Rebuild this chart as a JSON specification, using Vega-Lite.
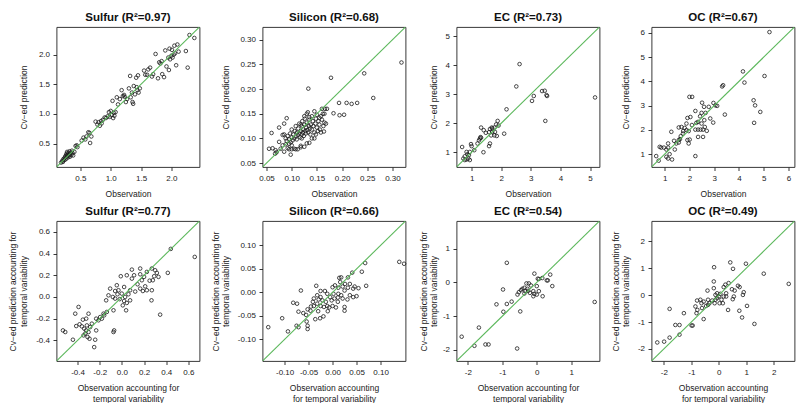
{
"$schema": "https://vega.github.io/schema/vega-lite/v6.json",
"padding": {"left": 7.5, "top": 11, "right": 0, "bottom": 0},
"background": "white",
"columns": 4,
"align": "each",
"spacing": {"row": 6, "column": 10},
"datasets": {
"diag": [
{"p":"a1","obs":0,"pred":0},{"p":"a1","obs":3,"pred":3},
{"p":"a2","obs":0,"pred":0},{"p":"a2","obs":0.4,"pred":0.4},
{"p":"a3","obs":0,"pred":0},{"p":"a3","obs":6,"pred":6},
{"p":"a4","obs":0,"pred":0},{"p":"a4","obs":7,"pred":7},
{"p":"b1","obs":-1,"pred":-1},{"p":"b1","obs":1,"pred":1},
{"p":"b2","obs":-0.2,"pred":-0.2},{"p":"b2","obs":0.2,"pred":0.2},
{"p":"b3","obs":-3,"pred":-3},{"p":"b3","obs":2,"pred":2},
{"p":"b4","obs":-3,"pred":-3},{"p":"b4","obs":3,"pred":3}
],
"pts": [
{"p":"a1","obs":0.18,"pred":0.18},{"p":"a1","obs":0.20,"pred":0.21},{"p":"a1","obs":0.21,"pred":0.19},{"p":"a1","obs":0.22,"pred":0.24},{"p":"a1","obs":0.23,"pred":0.22},{"p":"a1","obs":0.24,"pred":0.26},{"p":"a1","obs":0.25,"pred":0.23},{"p":"a1","obs":0.25,"pred":0.28},{"p":"a1","obs":0.26,"pred":0.30},{"p":"a1","obs":0.27,"pred":0.25},{"p":"a1","obs":0.27,"pred":0.33},{"p":"a1","obs":0.28,"pred":0.29},{"p":"a1","obs":0.28,"pred":0.36},{"p":"a1","obs":0.29,"pred":0.31},{"p":"a1","obs":0.30,"pred":0.27},{"p":"a1","obs":0.30,"pred":0.34},{"p":"a1","obs":0.31,"pred":0.30},{"p":"a1","obs":0.32,"pred":0.37},{"p":"a1","obs":0.32,"pred":0.32},{"p":"a1","obs":0.33,"pred":0.28},{"p":"a1","obs":0.34,"pred":0.35},{"p":"a1","obs":0.35,"pred":0.31},{"p":"a1","obs":0.36,"pred":0.38},{"p":"a1","obs":0.37,"pred":0.34},{"p":"a1","obs":0.38,"pred":0.30},{"p":"a1","obs":0.40,"pred":0.36},{"p":"a1","obs":0.42,"pred":0.46},{"p":"a1","obs":0.44,"pred":0.47},{"p":"a1","obs":0.45,"pred":0.44},{"p":"a1","obs":0.52,"pred":0.55},{"p":"a1","obs":0.55,"pred":0.60},{"p":"a1","obs":0.58,"pred":0.57},{"p":"a1","obs":0.60,"pred":0.62},{"p":"a1","obs":0.63,"pred":0.69},{"p":"a1","obs":0.65,"pred":0.68},{"p":"a1","obs":0.66,"pred":0.51},{"p":"a1","obs":0.68,"pred":0.62},{"p":"a1","obs":0.75,"pred":0.87},{"p":"a1","obs":0.78,"pred":0.82},{"p":"a1","obs":0.80,"pred":0.86},{"p":"a1","obs":0.82,"pred":0.80},{"p":"a1","obs":0.84,"pred":0.88},{"p":"a1","obs":0.85,"pred":0.84},{"p":"a1","obs":0.87,"pred":0.90},{"p":"a1","obs":0.90,"pred":0.94},{"p":"a1","obs":0.92,"pred":0.93},{"p":"a1","obs":0.95,"pred":0.96},{"p":"a1","obs":0.97,"pred":1.03},{"p":"a1","obs":0.98,"pred":0.95},{"p":"a1","obs":1.00,"pred":1.05},{"p":"a1","obs":1.02,"pred":0.98},{"p":"a1","obs":1.03,"pred":1.22},{"p":"a1","obs":1.04,"pred":0.93},{"p":"a1","obs":1.05,"pred":1.02},{"p":"a1","obs":1.06,"pred":0.97},{"p":"a1","obs":1.08,"pred":1.03},{"p":"a1","obs":1.10,"pred":1.28},{"p":"a1","obs":1.12,"pred":1.16},{"p":"a1","obs":1.15,"pred":1.25},{"p":"a1","obs":1.18,"pred":1.40},{"p":"a1","obs":1.20,"pred":1.30},{"p":"a1","obs":1.22,"pred":1.32},{"p":"a1","obs":1.23,"pred":1.29},{"p":"a1","obs":1.25,"pred":1.20},{"p":"a1","obs":1.27,"pred":1.25},{"p":"a1","obs":1.30,"pred":1.43},{"p":"a1","obs":1.32,"pred":1.64},{"p":"a1","obs":1.33,"pred":1.28},{"p":"a1","obs":1.35,"pred":1.36},{"p":"a1","obs":1.36,"pred":1.20},{"p":"a1","obs":1.37,"pred":1.17},{"p":"a1","obs":1.38,"pred":1.47},{"p":"a1","obs":1.40,"pred":1.33},{"p":"a1","obs":1.42,"pred":1.61},{"p":"a1","obs":1.43,"pred":1.45},{"p":"a1","obs":1.44,"pred":1.40},{"p":"a1","obs":1.45,"pred":1.65},{"p":"a1","obs":1.46,"pred":1.36},{"p":"a1","obs":1.48,"pred":1.43},{"p":"a1","obs":1.55,"pred":1.73},{"p":"a1","obs":1.57,"pred":1.66},{"p":"a1","obs":1.60,"pred":1.66},{"p":"a1","obs":1.62,"pred":1.75},{"p":"a1","obs":1.65,"pred":1.78},{"p":"a1","obs":1.68,"pred":1.63},{"p":"a1","obs":1.70,"pred":1.67},{"p":"a1","obs":1.74,"pred":2.01},{"p":"a1","obs":1.78,"pred":1.60},{"p":"a1","obs":1.80,"pred":1.87},{"p":"a1","obs":1.82,"pred":1.85},{"p":"a1","obs":1.84,"pred":1.89},{"p":"a1","obs":1.85,"pred":1.67},{"p":"a1","obs":1.88,"pred":1.62},{"p":"a1","obs":1.90,"pred":2.07},{"p":"a1","obs":1.92,"pred":1.80},{"p":"a1","obs":1.95,"pred":1.95},{"p":"a1","obs":1.96,"pred":1.74},{"p":"a1","obs":1.97,"pred":2.10},{"p":"a1","obs":1.98,"pred":1.92},{"p":"a1","obs":2.00,"pred":1.98},{"p":"a1","obs":2.01,"pred":2.08},{"p":"a1","obs":2.02,"pred":1.95},{"p":"a1","obs":2.04,"pred":2.00},{"p":"a1","obs":2.05,"pred":2.15},{"p":"a1","obs":2.06,"pred":2.02},{"p":"a1","obs":2.08,"pred":1.82},{"p":"a1","obs":2.10,"pred":2.17},{"p":"a1","obs":2.12,"pred":2.05},{"p":"a1","obs":2.24,"pred":2.06},{"p":"a1","obs":2.27,"pred":1.78},{"p":"a1","obs":2.30,"pred":2.33},{"p":"a1","obs":2.38,"pred":2.28},

{"p":"a2","obs":0.318,"pred":0.254},{"p":"a2","obs":0.244,"pred":0.232},{"p":"a2","obs":0.178,"pred":0.223},{"p":"a2","obs":0.133,"pred":0.201},{"p":"a2","obs":0.262,"pred":0.182},{"p":"a2","obs":0.230,"pred":0.172},{"p":"a2","obs":0.219,"pred":0.170},{"p":"a2","obs":0.209,"pred":0.172},{"p":"a2","obs":0.194,"pred":0.172},{"p":"a2","obs":0.204,"pred":0.148},{"p":"a2","obs":0.195,"pred":0.147},{"p":"a2","obs":0.183,"pred":0.151},{"p":"a2","obs":0.170,"pred":0.160},{"p":"a2","obs":0.060,"pred":0.111},{"p":"a2","obs":0.075,"pred":0.122},{"p":"a2","obs":0.090,"pred":0.141},{"p":"a2","obs":0.085,"pred":0.130},{"p":"a2","obs":0.098,"pred":0.067},{"p":"a2","obs":0.135,"pred":0.091},{"p":"a2","obs":0.164,"pred":0.114},{"p":"a2","obs":0.055,"pred":0.079},{"p":"a2","obs":0.062,"pred":0.080},{"p":"a2","obs":0.068,"pred":0.076},{"p":"a2","obs":0.070,"pred":0.072},{"p":"a2","obs":0.067,"pred":0.069},{"p":"a2","obs":0.078,"pred":0.079},{"p":"a2","obs":0.082,"pred":0.086},{"p":"a2","obs":0.075,"pred":0.093},{"p":"a2","obs":0.085,"pred":0.073},{"p":"a2","obs":0.100,"pred":0.078},{"p":"a2","obs":0.105,"pred":0.079},{"p":"a2","obs":0.112,"pred":0.078},{"p":"a2","obs":0.100,"pred":0.086},{"p":"a2","obs":0.118,"pred":0.085},{"p":"a2","obs":0.095,"pred":0.089},{"p":"a2","obs":0.085,"pred":0.108},{"p":"a2","obs":0.088,"pred":0.100},{"p":"a2","obs":0.090,"pred":0.095},{"p":"a2","obs":0.092,"pred":0.105},{"p":"a2","obs":0.095,"pred":0.098},{"p":"a2","obs":0.097,"pred":0.110},{"p":"a2","obs":0.098,"pred":0.092},{"p":"a2","obs":0.100,"pred":0.102},{"p":"a2","obs":0.100,"pred":0.118},{"p":"a2","obs":0.102,"pred":0.096},{"p":"a2","obs":0.103,"pred":0.108},{"p":"a2","obs":0.105,"pred":0.100},{"p":"a2","obs":0.106,"pred":0.115},{"p":"a2","obs":0.108,"pred":0.104},{"p":"a2","obs":0.108,"pred":0.125},{"p":"a2","obs":0.110,"pred":0.098},{"p":"a2","obs":0.110,"pred":0.112},{"p":"a2","obs":0.112,"pred":0.107},{"p":"a2","obs":0.113,"pred":0.120},{"p":"a2","obs":0.115,"pred":0.110},{"p":"a2","obs":0.115,"pred":0.130},{"p":"a2","obs":0.117,"pred":0.102},{"p":"a2","obs":0.118,"pred":0.115},{"p":"a2","obs":0.120,"pred":0.108},{"p":"a2","obs":0.120,"pred":0.125},{"p":"a2","obs":0.121,"pred":0.135},{"p":"a2","obs":0.122,"pred":0.112},{"p":"a2","obs":0.123,"pred":0.118},{"p":"a2","obs":0.124,"pred":0.105},{"p":"a2","obs":0.125,"pred":0.128},{"p":"a2","obs":0.126,"pred":0.140},{"p":"a2","obs":0.127,"pred":0.115},{"p":"a2","obs":0.128,"pred":0.110},{"p":"a2","obs":0.129,"pred":0.122},{"p":"a2","obs":0.130,"pred":0.132},{"p":"a2","obs":0.130,"pred":0.150},{"p":"a2","obs":0.131,"pred":0.117},{"p":"a2","obs":0.132,"pred":0.153},{"p":"a2","obs":0.133,"pred":0.112},{"p":"a2","obs":0.134,"pred":0.125},{"p":"a2","obs":0.135,"pred":0.138},{"p":"a2","obs":0.136,"pred":0.120},{"p":"a2","obs":0.137,"pred":0.108},{"p":"a2","obs":0.138,"pred":0.128},{"p":"a2","obs":0.140,"pred":0.145},{"p":"a2","obs":0.140,"pred":0.118},{"p":"a2","obs":0.142,"pred":0.135},{"p":"a2","obs":0.143,"pred":0.125},{"p":"a2","obs":0.145,"pred":0.155},{"p":"a2","obs":0.145,"pred":0.112},{"p":"a2","obs":0.147,"pred":0.130},{"p":"a2","obs":0.148,"pred":0.140},{"p":"a2","obs":0.150,"pred":0.122},{"p":"a2","obs":0.150,"pred":0.148},{"p":"a2","obs":0.152,"pred":0.115},{"p":"a2","obs":0.153,"pred":0.135},{"p":"a2","obs":0.155,"pred":0.128},{"p":"a2","obs":0.156,"pred":0.118},{"p":"a2","obs":0.158,"pred":0.112},{"p":"a2","obs":0.158,"pred":0.145},{"p":"a2","obs":0.160,"pred":0.160},{"p":"a2","obs":0.160,"pred":0.138},{"p":"a2","obs":0.162,"pred":0.150},{"p":"a2","obs":0.163,"pred":0.125},{"p":"a2","obs":0.165,"pred":0.150},{"p":"a2","obs":0.165,"pred":0.132},{"p":"a2","obs":0.166,"pred":0.160},{"p":"a2","obs":0.168,"pred":0.130},{"p":"a2","obs":0.145,"pred":0.100},{"p":"a2","obs":0.130,"pred":0.090},{"p":"a2","obs":0.118,"pred":0.082},{"p":"a2","obs":0.125,"pred":0.083},{"p":"a2","obs":0.108,"pred":0.078},{"p":"a2","obs":0.095,"pred":0.078},{"p":"a2","obs":0.092,"pred":0.080},{"p":"a2","obs":0.155,"pred":0.142},{"p":"a2","obs":0.135,"pred":0.143},{"p":"a2","obs":0.118,"pred":0.128},{"p":"a2","obs":0.125,"pred":0.145},{"p":"a2","obs":0.082,"pred":0.107},{"p":"a2","obs":0.088,"pred":0.088},{"p":"a2","obs":0.140,"pred":0.100},{"p":"a2","obs":0.148,"pred":0.108},{"p":"a2","obs":0.120,"pred":0.100},

{"p":"a3","obs":5.17,"pred":2.89},{"p":"a3","obs":2.62,"pred":4.04},{"p":"a3","obs":2.51,"pred":3.27},{"p":"a3","obs":3.04,"pred":2.77},{"p":"a3","obs":3.10,"pred":2.94},{"p":"a3","obs":3.38,"pred":3.11},{"p":"a3","obs":3.47,"pred":3.12},{"p":"a3","obs":3.53,"pred":2.97},{"p":"a3","obs":3.55,"pred":2.94},{"p":"a3","obs":3.49,"pred":2.08},{"p":"a3","obs":2.18,"pred":2.48},{"p":"a3","obs":2.10,"pred":1.64},{"p":"a3","obs":1.88,"pred":2.08},{"p":"a3","obs":1.83,"pred":1.96},{"p":"a3","obs":1.91,"pred":1.92},{"p":"a3","obs":1.77,"pred":1.85},{"p":"a3","obs":1.68,"pred":1.85},{"p":"a3","obs":1.62,"pred":1.80},{"p":"a3","obs":1.70,"pred":1.70},{"p":"a3","obs":1.66,"pred":1.58},{"p":"a3","obs":1.77,"pred":1.58},{"p":"a3","obs":1.85,"pred":1.56},{"p":"a3","obs":1.79,"pred":1.70},{"p":"a3","obs":1.59,"pred":1.69},{"p":"a3","obs":1.41,"pred":1.76},{"p":"a3","obs":1.32,"pred":1.85},{"p":"a3","obs":1.48,"pred":1.67},{"p":"a3","obs":1.62,"pred":1.30},{"p":"a3","obs":1.59,"pred":1.21},{"p":"a3","obs":1.32,"pred":1.50},{"p":"a3","obs":1.28,"pred":1.47},{"p":"a3","obs":1.25,"pred":1.41},{"p":"a3","obs":1.20,"pred":1.30},{"p":"a3","obs":1.40,"pred":1.00},{"p":"a3","obs":0.98,"pred":1.28},{"p":"a3","obs":1.00,"pred":1.21},{"p":"a3","obs":1.09,"pred":1.07},{"p":"a3","obs":0.94,"pred":1.01},{"p":"a3","obs":0.83,"pred":1.01},{"p":"a3","obs":0.68,"pred":1.18},{"p":"a3","obs":0.77,"pred":0.86},{"p":"a3","obs":0.72,"pred":0.78},{"p":"a3","obs":0.83,"pred":0.75},{"p":"a3","obs":0.89,"pred":0.78},{"p":"a3","obs":0.91,"pred":0.90},{"p":"a3","obs":0.86,"pred":0.93},{"p":"a3","obs":0.94,"pred":0.73},{"p":"a3","obs":0.77,"pred":0.73},{"p":"a3","obs":1.30,"pred":1.52},{"p":"a3","obs":1.70,"pred":1.82},

{"p":"a4","obs":5.23,"pred":6.03},{"p":"a4","obs":4.16,"pred":4.41},{"p":"a4","obs":4.22,"pred":3.95},{"p":"a4","obs":5.03,"pred":4.22},{"p":"a4","obs":4.59,"pred":3.22},{"p":"a4","obs":4.65,"pred":3.01},{"p":"a4","obs":4.86,"pred":2.74},{"p":"a4","obs":4.61,"pred":2.29},{"p":"a4","obs":3.36,"pred":3.84},{"p":"a4","obs":3.32,"pred":3.79},{"p":"a4","obs":3.43,"pred":2.63},{"p":"a4","obs":2.97,"pred":3.11},{"p":"a4","obs":3.05,"pred":3.01},{"p":"a4","obs":3.12,"pred":2.99},{"p":"a4","obs":2.96,"pred":2.30},{"p":"a4","obs":2.84,"pred":2.47},{"p":"a4","obs":2.70,"pred":1.96},{"p":"a4","obs":2.78,"pred":2.95},{"p":"a4","obs":2.59,"pred":2.95},{"p":"a4","obs":2.51,"pred":3.12},{"p":"a4","obs":2.11,"pred":3.36},{"p":"a4","obs":2.00,"pred":3.36},{"p":"a4","obs":2.24,"pred":2.78},{"p":"a4","obs":2.04,"pred":2.53},{"p":"a4","obs":1.92,"pred":2.49},{"p":"a4","obs":1.88,"pred":2.26},{"p":"a4","obs":1.88,"pred":1.99},{"p":"a4","obs":1.97,"pred":1.95},{"p":"a4","obs":1.81,"pred":2.08},{"p":"a4","obs":1.68,"pred":2.12},{"p":"a4","obs":1.57,"pred":2.10},{"p":"a4","obs":1.74,"pred":1.85},{"p":"a4","obs":1.65,"pred":1.74},{"p":"a4","obs":1.57,"pred":1.58},{"p":"a4","obs":1.47,"pred":1.44},{"p":"a4","obs":1.57,"pred":1.48},{"p":"a4","obs":2.01,"pred":1.60},{"p":"a4","obs":1.97,"pred":1.44},{"p":"a4","obs":1.92,"pred":1.58},{"p":"a4","obs":2.35,"pred":1.71},{"p":"a4","obs":2.55,"pred":1.71},{"p":"a4","obs":2.55,"pred":2.01},{"p":"a4","obs":2.45,"pred":2.01},{"p":"a4","obs":2.35,"pred":2.01},{"p":"a4","obs":2.24,"pred":2.01},{"p":"a4","obs":2.28,"pred":2.29},{"p":"a4","obs":2.35,"pred":2.33},{"p":"a4","obs":2.49,"pred":2.26},{"p":"a4","obs":2.62,"pred":2.12},{"p":"a4","obs":2.65,"pred":2.70},{"p":"a4","obs":2.49,"pred":2.70},{"p":"a4","obs":2.43,"pred":2.56},{"p":"a4","obs":2.24,"pred":0.92},{"p":"a4","obs":1.27,"pred":1.92},{"p":"a4","obs":1.14,"pred":1.27},{"p":"a4","obs":1.07,"pred":1.19},{"p":"a4","obs":0.97,"pred":1.27},{"p":"a4","obs":0.86,"pred":1.27},{"p":"a4","obs":0.80,"pred":1.30},{"p":"a4","obs":1.14,"pred":1.44},{"p":"a4","obs":1.07,"pred":0.89},{"p":"a4","obs":1.14,"pred":0.82},{"p":"a4","obs":1.30,"pred":0.78},{"p":"a4","obs":1.41,"pred":1.19},{"p":"a4","obs":1.38,"pred":1.55},{"p":"a4","obs":0.66,"pred":0.92},{"p":"a4","obs":0.76,"pred":0.73},{"p":"a4","obs":1.20,"pred":1.00},{"p":"a4","obs":1.62,"pred":1.62},{"p":"a4","obs":2.10,"pred":2.20},{"p":"a4","obs":2.60,"pred":2.40},{"p":"a4","obs":1.75,"pred":1.95},

{"p":"b1","obs":0.657,"pred":0.369},{"p":"b1","obs":0.441,"pred":0.443},{"p":"b1","obs":0.414,"pred":0.222},{"p":"b1","obs":0.345,"pred":-0.163},{"p":"b1","obs":0.267,"pred":-0.031},{"p":"b1","obs":0.270,"pred":0.062},{"p":"b1","obs":0.330,"pred":0.185},{"p":"b1","obs":0.315,"pred":0.222},{"p":"b1","obs":0.300,"pred":0.246},{"p":"b1","obs":0.270,"pred":0.262},{"p":"b1","obs":0.225,"pred":0.231},{"p":"b1","obs":0.200,"pred":0.185},{"p":"b1","obs":0.180,"pred":0.154},{"p":"b1","obs":0.165,"pred":0.262},{"p":"b1","obs":0.165,"pred":0.209},{"p":"b1","obs":0.141,"pred":0.117},{"p":"b1","obs":0.210,"pred":0.098},{"p":"b1","obs":0.225,"pred":0.062},{"p":"b1","obs":0.189,"pred":0.055},{"p":"b1","obs":0.165,"pred":0.077},{"p":"b1","obs":0.279,"pred":0.154},{"p":"b1","obs":0.291,"pred":0.191},{"p":"b1","obs":0.090,"pred":0.252},{"p":"b1","obs":0.110,"pred":0.200},{"p":"b1","obs":0.090,"pred":0.169},{"p":"b1","obs":0.044,"pred":0.200},{"p":"b1","obs":-0.010,"pred":0.191},{"p":"b1","obs":0.020,"pred":0.092},{"p":"b1","obs":-0.001,"pred":0.031},{"p":"b1","obs":0.029,"pred":0.000},{"p":"b1","obs":0.059,"pred":0.025},{"p":"b1","obs":0.074,"pred":0.062},{"p":"b1","obs":0.074,"pred":-0.031},{"p":"b1","obs":0.044,"pred":-0.055},{"p":"b1","obs":0.020,"pred":-0.037},{"p":"b1","obs":0.008,"pred":-0.077},{"p":"b1","obs":0.038,"pred":-0.123},{"p":"b1","obs":-0.046,"pred":0.108},{"p":"b1","obs":-0.031,"pred":0.062},{"p":"b1","obs":-0.040,"pred":0.025},{"p":"b1","obs":-0.061,"pred":-0.015},{"p":"b1","obs":-0.082,"pred":0.000},{"p":"b1","obs":-0.106,"pred":0.077},{"p":"b1","obs":-0.121,"pred":0.015},{"p":"b1","obs":-0.061,"pred":0.055},{"p":"b1","obs":-0.142,"pred":-0.031},{"p":"b1","obs":-0.076,"pred":-0.123},{"p":"b1","obs":-0.076,"pred":-0.323},{"p":"b1","obs":-0.070,"pred":-0.308},{"p":"b1","obs":-0.136,"pred":-0.138},{"p":"b1","obs":-0.166,"pred":-0.154},{"p":"b1","obs":-0.181,"pred":-0.200},{"p":"b1","obs":-0.160,"pred":-0.169},{"p":"b1","obs":-0.196,"pred":-0.185},{"p":"b1","obs":-0.211,"pred":-0.215},{"p":"b1","obs":-0.232,"pred":-0.200},{"p":"b1","obs":-0.232,"pred":-0.308},{"p":"b1","obs":-0.241,"pred":-0.394},{"p":"b1","obs":-0.250,"pred":-0.462},{"p":"b1","obs":-0.271,"pred":-0.246},{"p":"b1","obs":-0.286,"pred":-0.277},{"p":"b1","obs":-0.301,"pred":-0.323},{"p":"b1","obs":-0.316,"pred":-0.262},{"p":"b1","obs":-0.322,"pred":-0.308},{"p":"b1","obs":-0.331,"pred":-0.338},{"p":"b1","obs":-0.340,"pred":-0.292},{"p":"b1","obs":-0.310,"pred":-0.369},{"p":"b1","obs":-0.292,"pred":-0.385},{"p":"b1","obs":-0.346,"pred":-0.354},{"p":"b1","obs":-0.322,"pred":-0.200},{"p":"b1","obs":-0.361,"pred":-0.271},{"p":"b1","obs":-0.391,"pred":-0.092},{"p":"b1","obs":-0.421,"pred":-0.154},{"p":"b1","obs":-0.412,"pred":-0.268},{"p":"b1","obs":-0.382,"pred":-0.252},{"p":"b1","obs":-0.442,"pred":-0.394},{"p":"b1","obs":-0.532,"pred":-0.308},{"p":"b1","obs":-0.511,"pred":-0.323},{"p":"b1","obs":-0.301,"pred":-0.154},{"p":"b1","obs":-0.352,"pred":-0.209},{"p":"b1","obs":0.250,"pred":0.150},{"p":"b1","obs":0.120,"pred":0.050},{"p":"b1","obs":-0.020,"pred":-0.020},

{"p":"b2","obs":0.139,"pred":0.065},{"p":"b2","obs":0.149,"pred":0.061},{"p":"b2","obs":0.068,"pred":0.0625},{"p":"b2","obs":0.061,"pred":0.044},{"p":"b2","obs":0.041,"pred":0.042},{"p":"b2","obs":0.032,"pred":0.032},{"p":"b2","obs":0.018,"pred":0.032},{"p":"b2","obs":0.070,"pred":0.014},{"p":"b2","obs":0.054,"pred":0.009},{"p":"b2","obs":0.050,"pred":-0.008},{"p":"b2","obs":0.043,"pred":-0.010},{"p":"b2","obs":0.025,"pred":-0.031},{"p":"b2","obs":0.025,"pred":-0.039},{"p":"b2","obs":-0.066,"pred":0.004},{"p":"b2","obs":-0.034,"pred":0.014},{"p":"b2","obs":-0.082,"pred":-0.022},{"p":"b2","obs":-0.074,"pred":-0.024},{"p":"b2","obs":-0.071,"pred":-0.041},{"p":"b2","obs":-0.105,"pred":-0.055},{"p":"b2","obs":-0.075,"pred":-0.071},{"p":"b2","obs":-0.071,"pred":-0.074},{"p":"b2","obs":-0.093,"pred":-0.083},{"p":"b2","obs":-0.134,"pred":-0.074},{"p":"b2","obs":-0.052,"pred":-0.071},{"p":"b2","obs":-0.052,"pred":-0.078},{"p":"b2","obs":-0.054,"pred":-0.062},{"p":"b2","obs":-0.055,"pred":-0.048},{"p":"b2","obs":-0.061,"pred":-0.044},{"p":"b2","obs":-0.052,"pred":-0.036},{"p":"b2","obs":-0.046,"pred":-0.039},{"p":"b2","obs":-0.036,"pred":-0.057},{"p":"b2","obs":-0.026,"pred":-0.055},{"p":"b2","obs":-0.019,"pred":-0.051},{"p":"b2","obs":-0.039,"pred":-0.029},{"p":"b2","obs":-0.032,"pred":-0.024},{"p":"b2","obs":-0.025,"pred":-0.029},{"p":"b2","obs":-0.018,"pred":-0.031},{"p":"b2","obs":-0.011,"pred":-0.029},{"p":"b2","obs":-0.007,"pred":-0.032},{"p":"b2","obs":0.000,"pred":-0.029},{"p":"b2","obs":0.007,"pred":-0.032},{"p":"b2","obs":-0.002,"pred":-0.017},{"p":"b2","obs":0.004,"pred":-0.013},{"p":"b2","obs":0.011,"pred":-0.011},{"p":"b2","obs":-0.005,"pred":-0.010},{"p":"b2","obs":-0.011,"pred":-0.003},{"p":"b2","obs":-0.016,"pred":0.003},{"p":"b2","obs":0.000,"pred":0.011},{"p":"b2","obs":0.005,"pred":0.015},{"p":"b2","obs":0.012,"pred":0.010},{"p":"b2","obs":0.016,"pred":0.022},{"p":"b2","obs":0.014,"pred":0.031},{"p":"b2","obs":0.021,"pred":0.0125},{"p":"b2","obs":0.025,"pred":0.004},{"p":"b2","obs":0.032,"pred":0.010},{"p":"b2","obs":0.026,"pred":0.018},{"p":"b2","obs":0.036,"pred":0.018},{"p":"b2","obs":-0.025,"pred":-0.010},{"p":"b2","obs":-0.032,"pred":-0.006},{"p":"b2","obs":-0.039,"pred":-0.013},{"p":"b2","obs":-0.029,"pred":-0.015},{"p":"b2","obs":-0.021,"pred":-0.017},{"p":"b2","obs":-0.014,"pred":-0.020},{"p":"b2","obs":-0.041,"pred":-0.020},{"p":"b2","obs":-0.025,"pred":0.003},{"p":"b2","obs":0.012,"pred":-0.003},{"p":"b2","obs":0.018,"pred":-0.006},{"p":"b2","obs":0.021,"pred":-0.013},{"p":"b2","obs":0.031,"pred":-0.015},{"p":"b2","obs":0.036,"pred":-0.006},{"p":"b2","obs":0.011,"pred":-0.020},{"p":"b2","obs":0.002,"pred":-0.003},{"p":"b2","obs":0.043,"pred":0.008},{"p":"b2","obs":0.046,"pred":0.0125},{"p":"b2","obs":-0.045,"pred":-0.030},{"p":"b2","obs":-0.030,"pred":-0.040},{"p":"b2","obs":-0.010,"pred":-0.040},

{"p":"b3","obs":1.68,"pred":-0.58},{"p":"b3","obs":-0.87,"pred":0.58},{"p":"b3","obs":-2.18,"pred":-1.61},{"p":"b3","obs":-1.81,"pred":-1.88},{"p":"b3","obs":-1.68,"pred":-1.34},{"p":"b3","obs":-1.49,"pred":-1.84},{"p":"b3","obs":-1.40,"pred":-1.84},{"p":"b3","obs":-0.57,"pred":-1.96},{"p":"b3","obs":-0.48,"pred":-0.86},{"p":"b3","obs":-0.97,"pred":-0.87},{"p":"b3","obs":-1.17,"pred":-0.65},{"p":"b3","obs":-0.87,"pred":-0.64},{"p":"b3","obs":-0.73,"pred":-0.57},{"p":"b3","obs":-0.98,"pred":-0.21},{"p":"b3","obs":-0.56,"pred":-0.36},{"p":"b3","obs":-0.52,"pred":-0.29},{"p":"b3","obs":-0.46,"pred":-0.23},{"p":"b3","obs":-0.42,"pred":-0.19},{"p":"b3","obs":-0.36,"pred":-0.16},{"p":"b3","obs":-0.33,"pred":-0.26},{"p":"b3","obs":-0.27,"pred":-0.19},{"p":"b3","obs":-0.30,"pred":-0.03},{"p":"b3","obs":-0.23,"pred":-0.03},{"p":"b3","obs":-0.17,"pred":-0.09},{"p":"b3","obs":-0.10,"pred":-0.26},{"p":"b3","obs":-0.07,"pred":-0.34},{"p":"b3","obs":-0.10,"pred":-0.41},{"p":"b3","obs":0.00,"pred":-0.36},{"p":"b3","obs":0.06,"pred":-0.26},{"p":"b3","obs":0.00,"pred":-0.11},{"p":"b3","obs":0.03,"pred":0.11},{"p":"b3","obs":-0.07,"pred":0.26},{"p":"b3","obs":0.06,"pred":0.10},{"p":"b3","obs":0.16,"pred":0.13},{"p":"b3","obs":0.29,"pred":0.06},{"p":"b3","obs":0.32,"pred":0.06},{"p":"b3","obs":0.39,"pred":0.23},{"p":"b3","obs":0.45,"pred":-0.11},{"p":"b3","obs":0.17,"pred":-0.41},{"p":"b3","obs":-0.20,"pred":-0.31},{"p":"b3","obs":-0.36,"pred":-0.33},{"p":"b3","obs":-0.25,"pred":-0.25},

{"p":"b4","obs":2.55,"pred":0.42},{"p":"b4","obs":1.64,"pred":0.80},{"p":"b4","obs":0.99,"pred":1.17},{"p":"b4","obs":0.42,"pred":1.22},{"p":"b4","obs":0.52,"pred":0.98},{"p":"b4","obs":-0.17,"pred":1.04},{"p":"b4","obs":1.30,"pred":-1.07},{"p":"b4","obs":1.03,"pred":-0.40},{"p":"b4","obs":0.85,"pred":-0.83},{"p":"b4","obs":0.75,"pred":-0.58},{"p":"b4","obs":0.91,"pred":0.11},{"p":"b4","obs":0.88,"pred":0.01},{"p":"b4","obs":0.70,"pred":0.35},{"p":"b4","obs":0.76,"pred":0.30},{"p":"b4","obs":0.58,"pred":0.17},{"p":"b4","obs":0.48,"pred":0.22},{"p":"b4","obs":0.55,"pred":-0.05},{"p":"b4","obs":0.51,"pred":-0.15},{"p":"b4","obs":0.36,"pred":0.45},{"p":"b4","obs":0.24,"pred":0.39},{"p":"b4","obs":0.18,"pred":0.30},{"p":"b4","obs":0.27,"pred":0.07},{"p":"b4","obs":0.27,"pred":-0.05},{"p":"b4","obs":0.34,"pred":-0.55},{"p":"b4","obs":0.15,"pred":-0.30},{"p":"b4","obs":0.10,"pred":-0.17},{"p":"b4","obs":0.00,"pred":-0.05},{"p":"b4","obs":-0.06,"pred":-0.11},{"p":"b4","obs":-0.12,"pred":-0.17},{"p":"b4","obs":0.03,"pred":-0.30},{"p":"b4","obs":-0.15,"pred":-0.30},{"p":"b4","obs":-0.24,"pred":-0.20},{"p":"b4","obs":-0.34,"pred":-0.30},{"p":"b4","obs":-0.39,"pred":-0.36},{"p":"b4","obs":-0.46,"pred":-0.40},{"p":"b4","obs":-0.39,"pred":-0.17},{"p":"b4","obs":-0.55,"pred":-0.24},{"p":"b4","obs":-0.67,"pred":-0.17},{"p":"b4","obs":-0.61,"pred":-0.48},{"p":"b4","obs":-0.85,"pred":-0.42},{"p":"b4","obs":-0.79,"pred":-0.20},{"p":"b4","obs":-0.63,"pred":-0.30},{"p":"b4","obs":-0.78,"pred":-0.55},{"p":"b4","obs":-0.81,"pred":-0.67},{"p":"b4","obs":-0.55,"pred":-0.89},{"p":"b4","obs":-0.41,"pred":0.17},{"p":"b4","obs":-0.18,"pred":0.26},{"p":"b4","obs":-0.12,"pred":0.01},{"p":"b4","obs":-0.18,"pred":0.51},{"p":"b4","obs":-1.27,"pred":-0.67},{"p":"b4","obs":-1.79,"pred":-0.51},{"p":"b4","obs":-1.58,"pred":-1.11},{"p":"b4","obs":-1.43,"pred":-1.11},{"p":"b4","obs":-0.99,"pred":-1.13},{"p":"b4","obs":-0.95,"pred":-1.13},{"p":"b4","obs":-1.43,"pred":-1.47},{"p":"b4","obs":-1.79,"pred":-1.58},{"p":"b4","obs":-1.99,"pred":-1.73},{"p":"b4","obs":-2.24,"pred":-1.76},{"p":"b4","obs":-0.06,"pred":0.07},{"p":"b4","obs":0.06,"pred":0.05},{"p":"b4","obs":0.18,"pred":-0.05}
]
},
"concat": [
{"title":"Sulfur (R²=0.97)","width":143,"height":140,
 "encoding":{
  "x":{"field":"obs","type":"quantitative","scale":{"domain":[0.105,2.465],"zero":false,"nice":false},"axis":{"title":"Observation","values":[0.5,1,1.5,2],"labelExpr":"format(datum.value,'.1f')"}},
  "y":{"field":"pred","type":"quantitative","scale":{"domain":[0.105,2.465],"zero":false,"nice":false},"axis":{"title":"Cv−ed prediction","values":[0.5,1,1.5,2],"labelExpr":"format(datum.value,'.1f')","minExtent":26.5,"maxExtent":26.5}}},
 "layer":[
  {"data":{"name":"pts"},"transform":[{"filter":"datum.p=='a1'"}],"mark":{"type":"point","shape":"circle","filled":false,"size":13,"color":"#1a1a1a","strokeWidth":0.8,"opacity":1}},
  {"data":{"name":"diag"},"transform":[{"filter":"datum.p=='a1'"}],"mark":{"type":"line","stroke":"#5cb85c","strokeWidth":1.1,"clip":true}}]},
{"title":"Silicon (R²=0.68)","width":143,"height":140,
 "encoding":{
  "x":{"field":"obs","type":"quantitative","scale":{"domain":[0.042,0.326],"zero":false,"nice":false},"axis":{"title":"Observation","values":[0.05,0.1,0.15,0.2,0.25,0.3],"labelExpr":"format(datum.value,'.2f')"}},
  "y":{"field":"pred","type":"quantitative","scale":{"domain":[0.042,0.326],"zero":false,"nice":false},"axis":{"title":"Cv−ed prediction","values":[0.05,0.1,0.15,0.2,0.25,0.3],"labelExpr":"format(datum.value,'.2f')","minExtent":30,"maxExtent":30}}},
 "layer":[
  {"data":{"name":"pts"},"transform":[{"filter":"datum.p=='a2'"}],"mark":{"type":"point","shape":"circle","filled":false,"size":13,"color":"#1a1a1a","strokeWidth":0.8,"opacity":1}},
  {"data":{"name":"diag"},"transform":[{"filter":"datum.p=='a2'"}],"mark":{"type":"line","stroke":"#5cb85c","strokeWidth":1.1,"clip":true}}]},
{"title":"EC (R²=0.73)","width":143,"height":140,
 "encoding":{
  "x":{"field":"obs","type":"quantitative","scale":{"domain":[0.49,5.32],"zero":false,"nice":false},"axis":{"title":"Observation","values":[1,2,3,4,5],"format":"d"}},
  "y":{"field":"pred","type":"quantitative","scale":{"domain":[0.49,5.32],"zero":false,"nice":false},"axis":{"title":"Cv−ed prediction","values":[1,2,3,4,5],"format":"d","minExtent":16,"maxExtent":16}}},
 "layer":[
  {"data":{"name":"pts"},"transform":[{"filter":"datum.p=='a3'"}],"mark":{"type":"point","shape":"circle","filled":false,"size":13,"color":"#1a1a1a","strokeWidth":0.8,"opacity":1}},
  {"data":{"name":"diag"},"transform":[{"filter":"datum.p=='a3'"}],"mark":{"type":"line","stroke":"#5cb85c","strokeWidth":1.1,"clip":true}}]},
{"title":"OC (R²=0.67)","width":143,"height":140,
 "encoding":{
  "x":{"field":"obs","type":"quantitative","scale":{"domain":[0.47,6.24],"zero":false,"nice":false},"axis":{"title":"Observation","values":[1,2,3,4,5,6],"format":"d"}},
  "y":{"field":"pred","type":"quantitative","scale":{"domain":[0.47,6.24],"zero":false,"nice":false},"axis":{"title":"Cv−ed prediction","values":[1,2,3,4,5,6],"format":"d","minExtent":19,"maxExtent":19}}},
 "layer":[
  {"data":{"name":"pts"},"transform":[{"filter":"datum.p=='a4'"}],"mark":{"type":"point","shape":"circle","filled":false,"size":13,"color":"#1a1a1a","strokeWidth":0.8,"opacity":1}},
  {"data":{"name":"diag"},"transform":[{"filter":"datum.p=='a4'"}],"mark":{"type":"line","stroke":"#5cb85c","strokeWidth":1.1,"clip":true}}]},
{"title":"Sulfur (R²=0.77)","width":143,"height":140,
 "encoding":{
  "x":{"field":"obs","type":"quantitative","scale":{"domain":[-0.59,0.70],"zero":false,"nice":false},"axis":{"title":["Observation accounting for","temporal variability"],"values":[-0.4,-0.2,0,0.2,0.4,0.6],"labelExpr":"replace(format(datum.value,'.1f'),'−','-')"}},
  "y":{"field":"pred","type":"quantitative","scale":{"domain":[-0.59,0.70],"zero":false,"nice":false},"axis":{"title":["Cv−ed prediction accounting for","temporal variability"],"values":[-0.4,-0.2,0,0.2,0.4,0.6],"labelExpr":"replace(format(datum.value,'.1f'),'−','-')","minExtent":26.5,"maxExtent":26.5}}},
 "layer":[
  {"data":{"name":"pts"},"transform":[{"filter":"datum.p=='b1'"}],"mark":{"type":"point","shape":"circle","filled":false,"size":13,"color":"#1a1a1a","strokeWidth":0.8,"opacity":1}},
  {"data":{"name":"diag"},"transform":[{"filter":"datum.p=='b1'"}],"mark":{"type":"line","stroke":"#5cb85c","strokeWidth":1.1,"clip":true}}]},
{"title":"Silicon (R²=0.66)","width":143,"height":140,
 "encoding":{
  "x":{"field":"obs","type":"quantitative","scale":{"domain":[-0.146,0.152],"zero":false,"nice":false},"axis":{"title":["Observation accounting","for temporal variability"],"values":[-0.1,-0.05,0,0.05,0.1],"labelExpr":"replace(format(datum.value,'.2f'),'−','-')"}},
  "y":{"field":"pred","type":"quantitative","scale":{"domain":[-0.146,0.152],"zero":false,"nice":false},"axis":{"title":["Cv−ed prediction accounting for","temporal variability"],"values":[-0.1,-0.05,0,0.05,0.1],"labelExpr":"replace(format(datum.value,'.2f'),'−','-')","minExtent":30,"maxExtent":30}}},
 "layer":[
  {"data":{"name":"pts"},"transform":[{"filter":"datum.p=='b2'"}],"mark":{"type":"point","shape":"circle","filled":false,"size":13,"color":"#1a1a1a","strokeWidth":0.8,"opacity":1}},
  {"data":{"name":"diag"},"transform":[{"filter":"datum.p=='b2'"}],"mark":{"type":"line","stroke":"#5cb85c","strokeWidth":1.1,"clip":true}}]},
{"title":"EC (R²=0.54)","width":143,"height":140,
 "encoding":{
  "x":{"field":"obs","type":"quantitative","scale":{"domain":[-2.33,1.82],"zero":false,"nice":false},"axis":{"title":["Observation accounting for","temporal variability"],"values":[-2,-1,0,1],"labelExpr":"replace(format(datum.value,'d'),'−','-')"}},
  "y":{"field":"pred","type":"quantitative","scale":{"domain":[-2.33,1.82],"zero":false,"nice":false},"axis":{"title":["Cv−ed prediction accounting for","temporal variability"],"values":[-2,-1,0,1],"labelExpr":"replace(format(datum.value,'d'),'−','-')","minExtent":16,"maxExtent":16}}},
 "layer":[
  {"data":{"name":"pts"},"transform":[{"filter":"datum.p=='b3'"}],"mark":{"type":"point","shape":"circle","filled":false,"size":13,"color":"#1a1a1a","strokeWidth":0.8,"opacity":1}},
  {"data":{"name":"diag"},"transform":[{"filter":"datum.p=='b3'"}],"mark":{"type":"line","stroke":"#5cb85c","strokeWidth":1.1,"clip":true}}]},
{"title":"OC (R²=0.49)","width":143,"height":140,
 "encoding":{
  "x":{"field":"obs","type":"quantitative","scale":{"domain":[-2.45,2.76],"zero":false,"nice":false},"axis":{"title":["Observation accounting","for temporal variability"],"values":[-2,-1,0,1,2],"labelExpr":"replace(format(datum.value,'d'),'−','-')"}},
  "y":{"field":"pred","type":"quantitative","scale":{"domain":[-2.45,2.76],"zero":false,"nice":false},"axis":{"title":["Cv−ed prediction accounting for","temporal variability"],"values":[-2,-1,0,1,2],"labelExpr":"replace(format(datum.value,'d'),'−','-')","minExtent":19,"maxExtent":19}}},
 "layer":[
  {"data":{"name":"pts"},"transform":[{"filter":"datum.p=='b4'"}],"mark":{"type":"point","shape":"circle","filled":false,"size":13,"color":"#1a1a1a","strokeWidth":0.8,"opacity":1}},
  {"data":{"name":"diag"},"transform":[{"filter":"datum.p=='b4'"}],"mark":{"type":"line","stroke":"#5cb85c","strokeWidth":1.1,"clip":true}}]}
],
"config": {
 "font": "Liberation Sans",
 "view": {"stroke": "#222", "strokeWidth": 0.9},
 "axis": {"grid": false, "domain": false, "tickColor": "#222", "tickSize": 3.5, "tickWidth": 0.9, "labelFontSize": 8, "labelColor": "#222", "titleFontSize": 8.5, "titleFontWeight": "normal", "titleColor": "#222", "labelFont": "Liberation Sans", "titleFont": "Liberation Sans", "labelPadding": 3.5, "titleLineHeight": 10.5, "labelOverlap": false, "labelFlush": false},
 "axisX": {"minExtent": 17, "maxExtent": 17, "titlePadding": 5.5},
 "axisY": {"titlePadding": 2},
 "title": {"fontSize": 11.5, "fontWeight": "bold", "offset": 4, "color": "#111", "font": "Liberation Sans"}
}
}
